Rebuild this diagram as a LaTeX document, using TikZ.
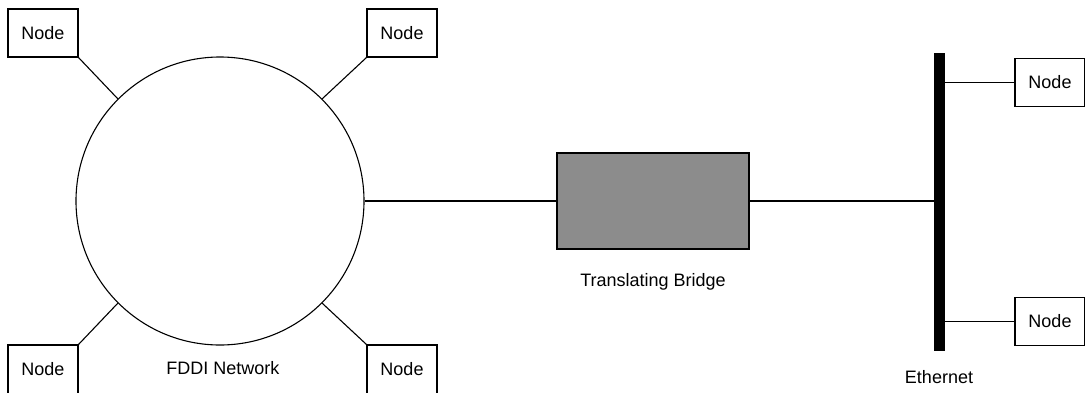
\documentclass[tikz,border=0pt]{standalone}
\usepackage{fontspec}
\setmainfont{Liberation Sans}
\usepackage{tikz}
\usetikzlibrary{positioning}
\definecolor{bridgegray}{HTML}{8C8C8C}

\begin{document}
\begin{tikzpicture}[x=1pt,y=-1pt,
  station/.style={rectangle,draw=black,line width=1.1pt,fill=white,minimum width=70pt,minimum height=48pt,inner sep=0pt,font=\fontsize{18}{20}\selectfont},
  caption/.style={inner sep=0pt,font=\fontsize{18}{20}\selectfont},
  link/.style={draw=black,line width=1.1pt}]
\useasboundingbox (0,0) rectangle (1085,392);
% FDDI ring and its stations
\node[circle,draw=black,line width=1.1pt,minimum size=288pt,inner sep=0pt] (ring) at (220,201) {};
\node[station] (n1) at (43,33) {Node};
\node[station] (n2) at (402,33) {Node};
\node[station,minimum height=49pt] (n3) at (43,369.5) {Node};
\node[station,minimum height=49pt] (n4) at (402,369.5) {Node};
\node[caption] (fddi) at (223,368) {FDDI Network};
\draw[link] (n1.south east) -- (ring.135);
\draw[link] (n2.south west) -- (ring.45);
\draw[link] (n3.north east) -- (ring.225);
\draw[link] (n4.north west) -- (ring.315);
% bridge
\node[rectangle,draw=black,line width=1.1pt,fill=bridgegray,minimum width=192pt,minimum height=96pt,inner sep=0pt] (bridge) at (653,201) {};
\node[caption] (bridgelabel) at (653,282) {Translating Bridge};
\draw[link] (ring.east) -- (bridge.west);
% ethernet segment
\node[rectangle,fill=black,minimum width=11pt,minimum height=298pt,inner sep=0pt] (bus) at (939.5,202) {};
\node[caption] (ether) at (939,377) {Ethernet};
\node[station] (n5) at (1050,82.5) {Node};
\node[station] (n6) at (1050,321.5) {Node};
\draw[link] (bridge.east) -- (bridge.east -| bus.west);
\draw[link] (bus.east |- n5.west) -- (n5.west);
\draw[link] (bus.east |- n6.west) -- (n6.west);
\end{tikzpicture}
\end{document}
